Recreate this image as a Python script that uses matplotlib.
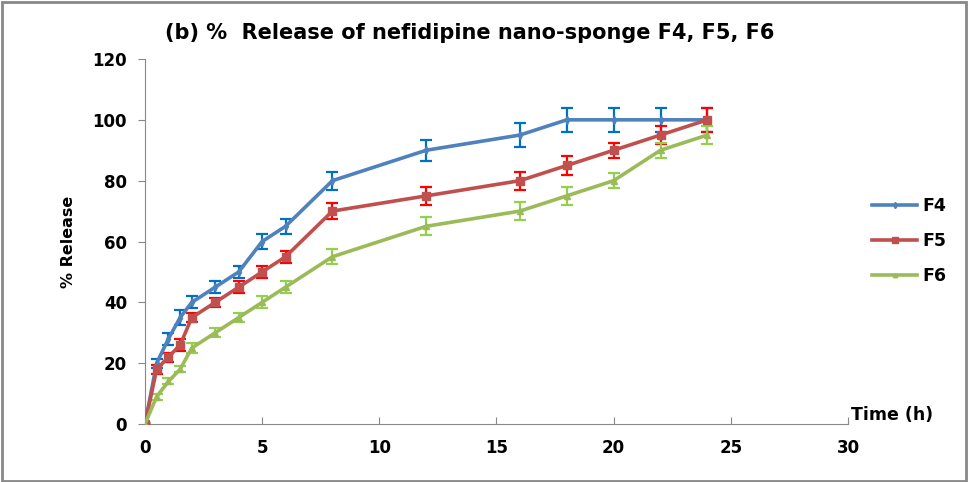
import numpy as np
import matplotlib.pyplot as plt
from matplotlib.patches import Rectangle

plt.rcParams['font.family'] = ['DejaVu Sans']
plt.rcParams['font.weight'] = 'bold'

# Data
time_h = [0, 0.5, 1, 1.5, 2, 3, 4, 5, 6, 8, 12, 16, 18, 20, 22, 24]
f4 = [0, 20, 28, 35, 40, 45, 50, 60, 65, 80, 90, 95, 100, 100, 100, 100]
f5 = [0, 18, 22, 26, 35, 40, 45, 50, 55, 70, 75, 80, 85, 90, 95, 100]
f6 = [0, 9, 14, 18, 25, 30, 35, 40, 45, 55, 65, 70, 75, 80, 90, 95]
f4_err = [0, 1.5, 2, 2.5, 2, 2, 2, 2.5, 2.5, 3, 3.5, 4, 4, 4, 4, 4]
f5_err = [0, 1.5, 1.5, 2, 1.5, 1.5, 2, 2, 2, 2.5, 3, 3, 3, 2.5, 3, 4]
f6_err = [0, 1, 1, 1, 1.5, 1.5, 1.5, 2, 2, 2.5, 3, 3, 3, 2.5, 2.5, 3]

series = [
    ("F4", f4, f4_err, "#4F81BD", "#0070C0", "d", 4),
    ("F5", f5, f5_err, "#C0504D", "#FF0000", "s", 6),
    ("F6", f6, f6_err, "#9BBB59", "#92D050", "^", 4),
]

fig = plt.figure(figsize=(9.69, 4.82), dpi=100)
ax = fig.add_axes([0.1496, 0.1203, 0.7255, 0.7573])

for name, vals, err, col, ecol, mk, ms in series:
    ax.errorbar(time_h, vals, yerr=err, fmt="none", ecolor=ecol,
                elinewidth=1.6, capsize=4, capthick=1.6, zorder=2)
    ax.plot(time_h, vals, color=col, linewidth=2.6, marker=mk,
            markersize=ms, label=name, zorder=3)

ax.set_xlim(0, 30)
ax.set_ylim(0, 120)
ax.set_xticks(np.arange(0, 31, 5))
ax.set_yticks(np.arange(0, 121, 20))
for s in ["top", "right"]:
    ax.spines[s].set_visible(False)
for s in ["left", "bottom"]:
    ax.spines[s].set_color("#888888")
ax.tick_params(axis="x", direction="in", length=5, color="#888888", pad=11,
               labelsize=12)
ax.tick_params(axis="y", direction="out", length=5, color="#888888", pad=8,
               labelsize=12)

ax.set_ylabel("% Release", fontsize=11.5, fontweight="bold")
ax.yaxis.set_label_coords(-0.098, 0.5)
ax.text(1.005, 0.0, "Time (h)", transform=ax.transAxes, fontsize=12.5,
        fontweight="bold", ha="left", va="bottom")

fig.text(0.485, 0.932, "(b) %  Release of nefidipine nano-sponge F4, F5, F6",
         fontsize=15, fontweight="bold", ha="center", va="center")

leg = fig.legend(loc="center left", bbox_to_anchor=(0.9, 0.5),
                 frameon=False, fontsize=12.5, handlelength=2.6,
                 labelspacing=1.0, handletextpad=0.3, markerscale=0.8,
                 borderpad=0, borderaxespad=0)
for t in leg.get_texts():
    t.set_fontweight("bold")

fig.patches.append(Rectangle((0.002, 0.003), 0.995, 0.993, transform=fig.transFigure,
                             fill=False, edgecolor="#888888", linewidth=2))

fig.savefig("out.png", dpi=100)
